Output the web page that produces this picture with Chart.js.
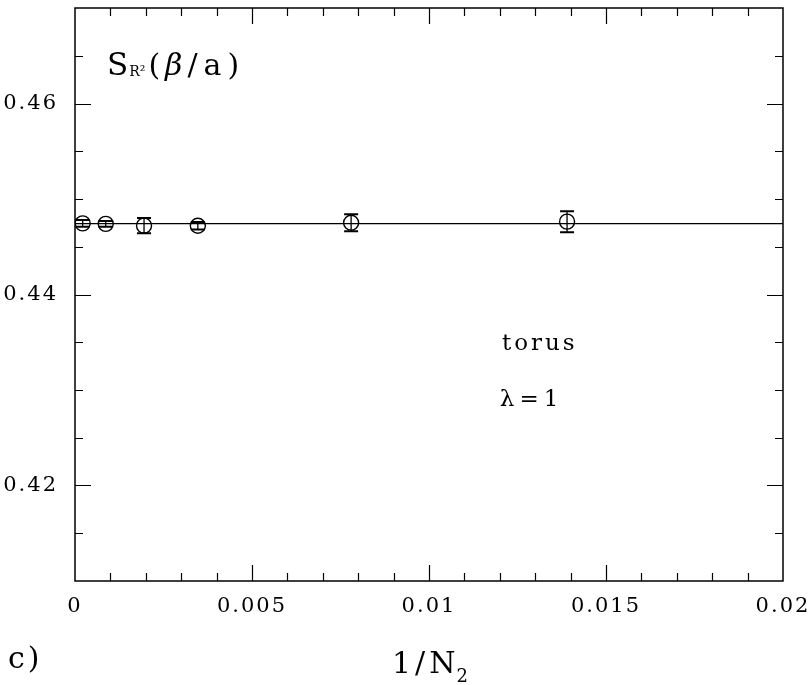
<!DOCTYPE html>
<html>
<head>
<meta charset="utf-8">
<script src="https://cdn.jsdelivr.net/npm/chart.js@4.4.1/dist/chart.umd.min.js"></script>
<style>
  html, body { margin: 0; padding: 0; background: #fff; }
  #wrap { width: 812px; height: 685px; }
</style>
</head>
<body>
<div id="wrap"><canvas id="chart" width="812" height="685"></canvas></div>
<script>
// values (x = 1/N2)
const invN2 = [0.000217, 0.000868, 0.00195, 0.00347, 0.0078, 0.0139];
const sR2 = [0.44745, 0.4474, 0.44721, 0.4472, 0.44751, 0.44763];
const sR2Err = [0.00035, 0.0003, 0.0008, 0.0004, 0.0009, 0.0011];
const fitLevel = 0.44742;

const xRange = [0, 0.02];
const yRange = [0.41, 0.47];
const xTicks = [0, 0.005, 0.01, 0.015, 0.02];
const xTickLabels = ['0', '0.005', '0.01', '0.015', '0.02'];
const yTicks = [0.42, 0.44, 0.46];
const yTickLabels = ['0.42', '0.44', '0.46'];
const xMinorStep = 0.001;
const yMinorStep = 0.005;

const SERIF = '"DejaVu Serif", serif';

const isMajor = (v, list) => list.some((t) => Math.abs(t - v) < 1e-9);

const decor = {
  id: 'decor',
  beforeDraw(chart) {
    chart.ctx.letterSpacing = '2px';
  },
  afterDatasetsDraw(chart) {
    const { ctx, chartArea: a, scales: { x, y } } = chart;
    ctx.save();
    ctx.strokeStyle = '#000';
    ctx.fillStyle = '#000';

    // error bars
    invN2.forEach((v, i) => {
      const px = x.getPixelForValue(v);
      const top = y.getPixelForValue(sR2[i] + sR2Err[i]);
      const bot = y.getPixelForValue(sR2[i] - sR2Err[i]);
      ctx.lineWidth = 1.3;
      ctx.beginPath();
      ctx.moveTo(px, top); ctx.lineTo(px, bot);
      ctx.stroke();
      ctx.lineWidth = 2;
      ctx.beginPath();
      ctx.moveTo(px - 7, top); ctx.lineTo(px + 7, top);
      ctx.moveTo(px - 7, bot); ctx.lineTo(px + 7, bot);
      ctx.stroke();
    });

    // frame
    ctx.lineWidth = 1.5;
    ctx.strokeRect(a.left, a.top, a.right - a.left, a.bottom - a.top);

    // inside ticks on all four sides
    ctx.lineWidth = 1.2;
    ctx.beginPath();
    const nx = Math.round((xRange[1] - xRange[0]) / xMinorStep);
    for (let i = 1; i < nx; i++) {
      const v = xRange[0] + i * xMinorStep;
      const len = isMajor(v, xTicks) ? 16 : 8;
      const px = Math.round(x.getPixelForValue(v)) + 0.5;
      ctx.moveTo(px, a.bottom); ctx.lineTo(px, a.bottom - len);
      ctx.moveTo(px, a.top); ctx.lineTo(px, a.top + len);
    }
    const ny = Math.round((yRange[1] - yRange[0]) / yMinorStep);
    for (let i = 1; i < ny; i++) {
      const v = yRange[0] + i * yMinorStep;
      const len = isMajor(v, yTicks) ? 16 : 8;
      const py = Math.round(y.getPixelForValue(v)) + 0.5;
      ctx.moveTo(a.left, py); ctx.lineTo(a.left + len, py);
      ctx.moveTo(a.right, py); ctx.lineTo(a.right - len, py);
    }
    ctx.stroke();

    // texts
    ctx.textBaseline = 'alphabetic';
    ctx.textAlign = 'left';
    const put = (str, px, py, font, spacing) => {
      ctx.font = font;
      ctx.letterSpacing = spacing + 'px';
      ctx.fillText(str, px, py);
      return px + ctx.measureText(str).width;
    };
    // panel label S_R²(β/a)
    let cx = put('S', a.left + 32, a.top + 67, '31px ' + SERIF, 0);
    cx = put('R²', cx + 1, a.top + 68, '14px ' + SERIF, 0);
    cx = put('(', cx + 3, a.top + 67, '30px ' + SERIF, 5);
    cx = put('β', cx, a.top + 67, 'italic 30px ' + SERIF, 5);
    put('/a)', cx, a.top + 67, '30px ' + SERIF, 6);

    put('torus', x.getPixelForValue(0.01206), y.getPixelForValue(0.43419), '23px ' + SERIF, 3);
    put('λ=1', x.getPixelForValue(0.012), y.getPixelForValue(0.42832), '23px ' + SERIF, 5);

    put('c)', 8, 668, '30px ' + SERIF, 3);
    cx = put('1/N', 392, 673, '30px ' + SERIF, 4);
    put('2', cx - 3, 682, '18px ' + SERIF, 0);

    ctx.restore();
  },
};

new Chart(document.getElementById('chart'), {
  type: 'scatter',
  data: {
    datasets: [
      {
        data: invN2.map((v, i) => ({ x: v, y: sR2[i] })),
        pointStyle: 'circle',
        pointRadius: 7.5,
        pointBorderWidth: 1.4,
        pointBorderColor: '#000',
        pointBackgroundColor: 'rgba(0,0,0,0)',
        showLine: false,
      },
      {
        type: 'line',
        data: [{ x: xRange[0], y: fitLevel }, { x: xRange[1], y: fitLevel }],
        borderColor: '#000',
        borderWidth: 1.4,
        pointRadius: 0,
        fill: false,
      },
    ],
  },
  options: {
    responsive: false,
    animation: false,
    events: [],
    layout: { autoPadding: false, padding: { left: 0, right: 29, top: 8, bottom: 0 } },
    plugins: { legend: { display: false }, tooltip: { enabled: false } },
    scales: {
      x: {
        type: 'linear',
        min: xRange[0],
        max: xRange[1],
        grid: { display: false },
        border: { display: false },
        afterBuildTicks: (s) => { s.ticks = xTicks.map((v) => ({ value: v })); },
        afterFit: (s) => {
          s.height = 104;
          s.paddingLeft = 0; s.paddingRight = 0; s.paddingTop = 0; s.paddingBottom = 0;
        },
        ticks: {
          color: '#000',
          font: { family: SERIF, size: 21 },
          padding: 5,
          maxRotation: 0,
          autoSkip: false,
          callback: (v) => xTickLabels[xTicks.findIndex((t) => Math.abs(t - v) < 1e-9)],
        },
      },
      y: {
        type: 'linear',
        min: yRange[0],
        max: yRange[1],
        grid: { display: false },
        border: { display: false },
        afterBuildTicks: (s) => { s.ticks = yTicks.map((v) => ({ value: v })); },
        afterFit: (s) => {
          s.width = 75;
          s.paddingLeft = 0; s.paddingRight = 0; s.paddingTop = 0; s.paddingBottom = 0;
        },
        ticks: {
          color: '#000',
          font: { family: SERIF, size: 21 },
          padding: 9,
          autoSkip: false,
          callback: (v) => yTickLabels[yTicks.findIndex((t) => Math.abs(t - v) < 1e-9)],
        },
      },
    },
  },
  plugins: [decor],
});
</script>
</body>
</html>
